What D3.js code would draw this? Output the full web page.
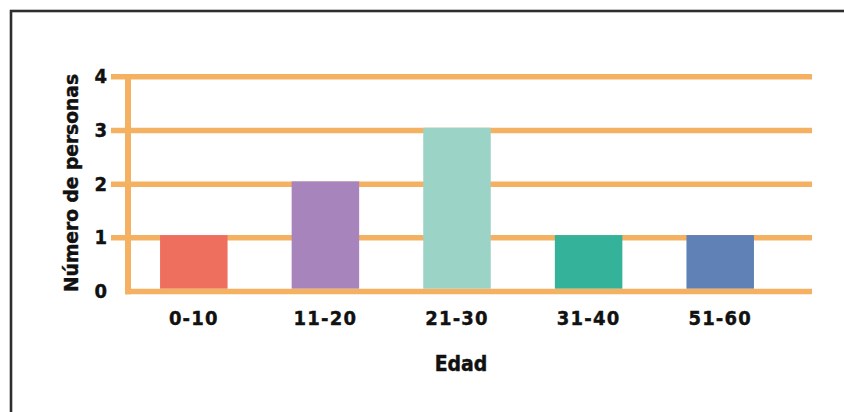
<!DOCTYPE html>
<html>
<head>
<meta charset="utf-8">
<script src="https://cdn.jsdelivr.net/npm/d3@7"></script>
<style>
  html, body { margin: 0; padding: 0; background: #ffffff; }
  svg { display: block; }
  text { font-family: "DejaVu Sans Condensed", "DejaVu Sans", "Liberation Sans Narrow", sans-serif; font-weight: bold; fill: #111; }
</style>
</head>
<body>
<svg id="chart" width="844" height="412"></svg>
<script>
// Personas por grupo de edad
const categories = ["0-10", "11-20", "21-30", "31-40", "51-60"];
const values = [1, 2, 3, 1, 1];
const barColors = ["#ef6f5f", "#a884bd", "#9cd3c7", "#34b39a", "#5f81b5"];
const yTicks = [0, 1, 2, 3, 4];
const yTitle = "Número de personas";
const xTitle = "Edad";

const gridColor = "#f5b162";
const svg = d3.select("#chart");

// Frame around the figure (runs off the right and bottom edges)
svg.append("rect")
  .attr("x", 11).attr("y", 11)
  .attr("width", 900).attr("height", 500)
  .attr("fill", "none")
  .attr("stroke", "#2e2e2e")
  .attr("stroke-width", 2.6);

const y = d3.scaleLinear().domain([0, 4]).range([291.5, 76.8]);
const x = d3.scaleBand().domain(categories).range([128, 786])
  .paddingInner(0.487).paddingOuter(0.2435);

const gridLeft = 111, gridRight = 812, lineW = 5.5;

// Horizontal gridlines (value 0 is drawn later as the baseline)
svg.append("g").selectAll("line")
  .data(yTicks.filter(d => d > 0))
  .join("line")
  .attr("x1", gridLeft).attr("x2", gridRight)
  .attr("y1", d => y(d)).attr("y2", d => y(d))
  .attr("stroke", gridColor)
  .attr("stroke-width", lineW);

// Bars
svg.append("g").selectAll("rect")
  .data(values)
  .join("rect")
  .attr("x", (d, i) => x(categories[i]))
  .attr("width", x.bandwidth())
  .attr("y", d => y(d) - lineW / 2)
  .attr("height", d => y(0) - y(d))
  .attr("fill", (d, i) => barColors[i]);

// Vertical axis line and baseline
svg.append("line")
  .attr("x1", 128).attr("x2", 128)
  .attr("y1", y(4) + 1).attr("y2", y(0) + lineW / 2)
  .attr("stroke", gridColor).attr("stroke-width", 6);
svg.append("line")
  .attr("x1", 125).attr("x2", gridRight)
  .attr("y1", y(0)).attr("y2", y(0))
  .attr("stroke", gridColor).attr("stroke-width", lineW);

// Y tick labels
const yAxis = svg.append("g")
  .attr("transform", `translate(${gridLeft},0)`)
  .call(d3.axisLeft(y).tickValues(yTicks).tickFormat(d3.format("d")).tickSize(0).tickPadding(4));
yAxis.select(".domain").remove();
yAxis.selectAll("text")
  .attr("font-size", 20)
  .attr("font-family", null)
  .attr("fill", "#111")
  .attr("stroke", "#111").attr("stroke-width", 0.4)
  .attr("dy", "0.3em");

// X tick labels
const xAxis = svg.append("g")
  .attr("transform", `translate(0,${y(0)})`)
  .call(d3.axisBottom(x).tickSize(0).tickPadding(19));
xAxis.select(".domain").remove();
xAxis.selectAll("text")
  .attr("font-size", 20)
  .attr("font-family", null)
  .attr("fill", "#111")
  .attr("letter-spacing", "1.2px")
  .attr("stroke", "#111").attr("stroke-width", 0.4);

// Axis titles
svg.append("text")
  .attr("x", 461).attr("y", 371)
  .attr("text-anchor", "middle")
  .attr("font-size", 21)
  .attr("stroke", "#111").attr("stroke-width", 0.4)
  .text(xTitle);

svg.append("text")
  .attr("transform", "translate(78,183) rotate(-90)")
  .attr("text-anchor", "middle")
  .attr("font-size", 19)
  .attr("textLength", 218)
  .attr("lengthAdjust", "spacingAndGlyphs")
  .attr("stroke", "#111").attr("stroke-width", 0.4)
  .text(yTitle);
</script>
</body>
</html>
